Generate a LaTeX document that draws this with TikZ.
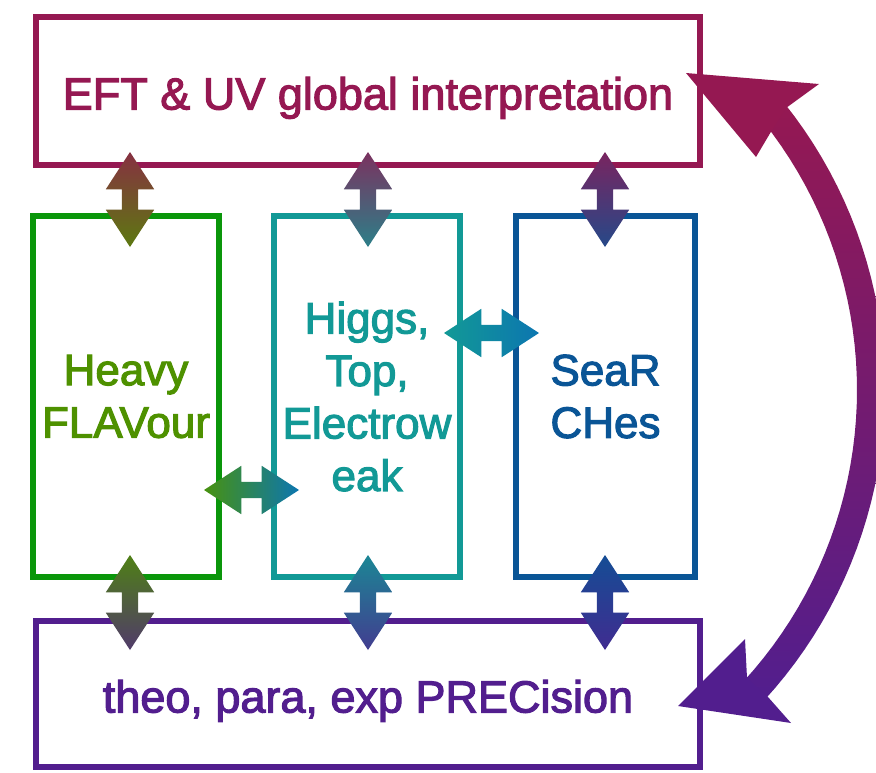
\documentclass[tikz,border=0pt]{standalone}
\usepackage{fontspec}
\newfontfamily\boxfont[UprightFeatures={FakeBold=2.5}]{Liberation Sans}
\usetikzlibrary{shapes.arrows}

\definecolor{eftc}{RGB}{149,24,82}
\definecolor{flavc}{RGB}{10,150,10}
\definecolor{flavt}{RGB}{78,145,0}
\definecolor{htec}{RGB}{18,153,150}
\definecolor{searc}{RGB}{10,85,150}
\definecolor{precc}{RGB}{82,30,142}
\definecolor{hsc}{RGB}{12,118,176}

\begin{document}
\begin{tikzpicture}[x=1pt,y=-1pt]
	\tikzset{box/.style={draw,line width=6pt,inner sep=0pt,align=center,font=\boxfont\fontsize{44}{52.5}\selectfont}}
	\tikzset{bigbox/.style={box,minimum width=664pt,text height=37pt,text depth=0pt,font=\boxfont\fontsize{45}{52.5}\selectfont}}
	\tikzset{fatarrow/.style={double arrow,draw=none,inner sep=8pt,minimum height=95pt,double arrow head extend=16pt,double arrow tip angle=66}}
	\useasboundingbox (0,0) rectangle (876,772);
	
	% boxes
	\node[bigbox,eftc,minimum height=148pt] (eft) at (368,91) {EFT \& UV global interpretation};
	\node[box,draw=flavc,text=flavt,minimum width=186pt,minimum height=361pt] (flav) at (126,396.5) {Heavy\\FLAVour};
	\node[box,htec,minimum width=186pt,minimum height=361pt] (hte) at (367,396.5) {Higgs,\\Top,\\Electrow\\eak};
	\node[box,searc,minimum width=179pt,minimum height=361pt] (sear) at (605.5,396.5) {SeaR\\CHes};
	\node[bigbox,precc,minimum height=146pt] (prec) at (368,694) {theo, para, exp PRECision};
	
	% up and down
	\foreach \x/\n/\c in {130/f/flavt,368/h/htec,605/s/searc}{
		\node[fatarrow,shape border rotate=90,top color=eftc!80!\c,bottom color=\c!80!eftc] (\n up) at (\x,199.5) {};
		\node[fatarrow,shape border rotate=90,top color=\c!85!precc,bottom color=precc!75!\c] (\n down) at (\x,602.5) {};
	}
	
	% sideways
	\node[fatarrow,left color=flavt!90!htec,right color=hsc] (fh) at (251.5,490) {};
	\node[fatarrow,left color=htec,right color=hsc] (hs) at (491.5,333) {};
	
	% eft <-> prec
	\coordinate (c) at (426,390);
	\coordinate (eftin) at (686,73);
	\coordinate (precin) at (678,706);
	\shade[top color=eftc,bottom color=precc] plot[domain=-38.5:42.5,samples=41] ({426+459*cos(\x)},{390+459*sin(\x)}) -- plot[domain=42.5:-38.5,samples=41] ({426+431*cos(\x)},{390+431*sin(\x)}) -- cycle;
	\fill[eftc] (eftin) -- (819,84) -- (786,108) -- (772,130) -- (756,157) -- cycle;
	\fill[precc] (precin) -- (745,639) -- (747,678) -- (768,697) -- (791,723) -- cycle;
	
\end{tikzpicture}
\end{document}
